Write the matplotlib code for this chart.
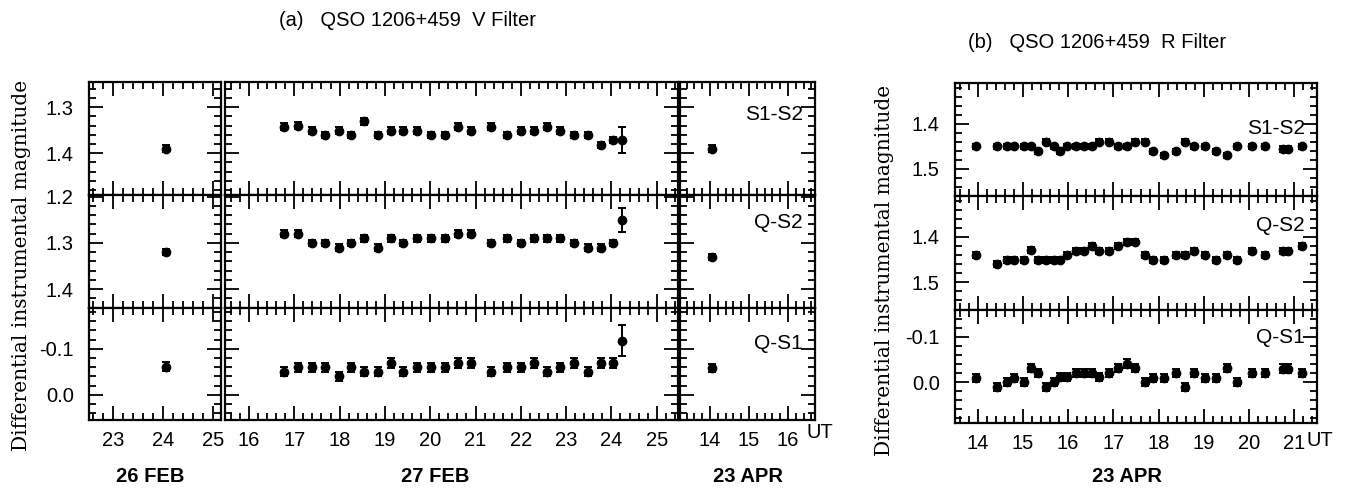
import numpy as np
import matplotlib
matplotlib.use("Agg")
import matplotlib.pyplot as plt
from matplotlib.ticker import MultipleLocator, FormatStrFormatter

plt.rcParams['font.family'] = ['Liberation Sans', 'DejaVu Sans']
plt.rcParams['axes.unicode_minus'] = False

# ---- data (UT hours, differential magnitudes) ----
# (a) V filter, 26 FEB
feb26_t = [24.05]
feb26_s1s2 = [1.390]
feb26_qs2 = [1.320]
feb26_qs1 = [-0.061]
feb26_err = [[0.008], [0.007], [0.010]]

# (a) V filter, 27 FEB
feb27_t = [16.78, 17.09, 17.40, 17.68, 17.99, 18.25, 18.53, 18.84, 19.13, 19.41,
           19.71, 20.01, 20.32, 20.62, 20.91, 21.34, 21.69, 22.00, 22.29, 22.57,
           22.87, 23.18, 23.49, 23.76, 24.04, 24.24]
feb27_s1s2 = [1.342, 1.340, 1.351, 1.361, 1.351, 1.361, 1.331, 1.361, 1.351, 1.351,
              1.351, 1.361, 1.361, 1.342, 1.351, 1.342, 1.361, 1.351, 1.351, 1.342,
              1.351, 1.361, 1.361, 1.382, 1.371, 1.371]
feb27_s1s2_err = [0.007] * 25 + [0.028]
feb27_qs2 = [1.280, 1.280, 1.300, 1.300, 1.310, 1.300, 1.290, 1.310, 1.290, 1.300,
             1.290, 1.290, 1.290, 1.280, 1.280, 1.300, 1.290, 1.300, 1.290, 1.290,
             1.290, 1.300, 1.310, 1.310, 1.300, 1.251]
feb27_qs2_err = [0.007] * 25 + [0.026]
feb27_qs1 = [-0.050, -0.060, -0.060, -0.060, -0.040, -0.060, -0.050, -0.050, -0.069, -0.050,
             -0.060, -0.060, -0.060, -0.069, -0.069, -0.050, -0.060, -0.060, -0.069, -0.050,
             -0.060, -0.069, -0.050, -0.069, -0.069, -0.118]
feb27_qs1_err = [0.010] * 25 + [0.034]

# (a) V filter, 23 APR
apr23v_t = [14.05]
apr23v_s1s2 = [1.390]
apr23v_qs2 = [1.331]
apr23v_qs1 = [-0.058]
apr23v_err = [[0.007], [0.006], [0.008]]

# (b) R filter, 23 APR
apr23r_t = [13.96, 14.42, 14.65, 14.81, 15.02, 15.17, 15.33, 15.51, 15.68, 15.81,
            15.98, 16.18, 16.34, 16.52, 16.69, 16.91, 17.11, 17.30, 17.47, 17.70,
            17.88, 18.12, 18.38, 18.58, 18.78, 19.02, 19.26, 19.50, 19.74, 20.07,
            20.34, 20.75, 20.86, 21.17]
apr23r_s1s2 = [1.450, 1.450, 1.450, 1.450, 1.450, 1.450, 1.461, 1.440, 1.450, 1.461,
               1.450, 1.450, 1.450, 1.450, 1.440, 1.440, 1.450, 1.450, 1.440, 1.440,
               1.461, 1.470, 1.461, 1.440, 1.450, 1.450, 1.461, 1.470, 1.450, 1.450,
               1.450, 1.456, 1.456, 1.450]
apr23r_qs2 = [1.440, 1.460, 1.451, 1.451, 1.451, 1.429, 1.451, 1.451, 1.451, 1.451,
              1.440, 1.431, 1.431, 1.420, 1.431, 1.431, 1.420, 1.411, 1.411, 1.440,
              1.451, 1.451, 1.440, 1.440, 1.431, 1.440, 1.451, 1.440, 1.451, 1.431,
              1.440, 1.431, 1.431, 1.420]
apr23r_qs1 = [-0.010, 0.011, 0.000, -0.010, 0.000, -0.031, -0.020, 0.011, 0.000, -0.011,
              -0.011, -0.020, -0.020, -0.020, -0.011, -0.020, -0.031, -0.041, -0.031, 0.000,
              -0.010, -0.010, -0.020, 0.011, -0.020, -0.010, -0.010, -0.031, 0.000, -0.020,
              -0.020, -0.030, -0.030, -0.020]
apr23r_err = [0.006, 0.006, 0.009]

pair_names = ['S1-S2', 'Q-S2', 'Q-S1']

# ---- layout (pixels of a 1346x495 canvas) ----
W, H = 1346, 495
fig = plt.figure(figsize=(W / 100, H / 100), dpi=100)
FS = 14.5


def box(x0, y0, x1, y1):
    return [x0 / W, 1 - y1 / H, (x1 - x0) / W, (y1 - y0) / H]


def style(ax, xlim, ylim, show_x, show_y):
    ax.set_xlim(*xlim)
    ax.set_ylim(*ylim)
    ax.xaxis.set_major_locator(MultipleLocator(1))
    ax.xaxis.set_minor_locator(MultipleLocator(0.2))
    ax.yaxis.set_major_locator(MultipleLocator(0.1))
    ax.yaxis.set_minor_locator(MultipleLocator(0.02))
    ax.yaxis.set_major_formatter(FormatStrFormatter('%.1f'))
    ax.tick_params(which='both', direction='in', top=True, right=True,
                   width=1.3, labelsize=FS)
    ax.tick_params(which='major', length=10)
    ax.tick_params(which='minor', length=5)
    ax.tick_params(axis='y', pad=11)
    ax.tick_params(axis='x', pad=8)
    for s in ax.spines.values():
        s.set_linewidth(1.6)
    if not show_x:
        ax.tick_params(axis='x', labelbottom=False)
    if not show_y:
        ax.tick_params(axis='y', labelleft=False)


def draw(ax, t, y, e):
    ax.errorbar(t, y, yerr=e, fmt='o', color='black', ms=6, capsize=3,
                elinewidth=1.4, capthick=1.4)


rows_a = [82, 194.5, 307.5, 420]
ylims_a = [(1.49, 1.245), (1.44, 1.195), (0.055, -0.19)]
cols_a = [(89, 221, (22.52, 25.16)), (225, 678, (15.47, 25.47)), (680, 815, (13.23, 16.69))]

data_a = [
    (feb26_t, [feb26_s1s2, feb26_qs2, feb26_qs1], feb26_err),
    (feb27_t, [feb27_s1s2, feb27_qs2, feb27_qs1], [feb27_s1s2_err, feb27_qs2_err, feb27_qs1_err]),
    (apr23v_t, [apr23v_s1s2, apr23v_qs2, apr23v_qs1], apr23v_err),
]
label_pos_a = [0.71, 0.75, 0.684]

for c, (x0, x1, xlim) in enumerate(cols_a):
    t, series, errs = data_a[c]
    for r in range(3):
        ax = fig.add_axes(box(x0, rows_a[r], x1, rows_a[r + 1]))
        draw(ax, t, series[r], errs[r])
        style(ax, xlim, ylims_a[r], show_x=(r == 2), show_y=(c == 0))
        if c == 2:
            ax.text(0.91, label_pos_a[r], pair_names[r], transform=ax.transAxes,
                    ha='right', va='center', fontsize=15)

rows_b = [83, 196, 309.5, 423]
ylims_b = [(1.56, 1.31), (1.56, 1.31), (0.09, -0.16)]
series_b = [apr23r_s1s2, apr23r_qs2, apr23r_qs1]
label_pos_b = [0.60, 0.74, 0.75]
for r in range(3):
    ax = fig.add_axes(box(955, rows_b[r], 1317, rows_b[r + 1]))
    draw(ax, apr23r_t, series_b[r], apr23r_err[r])
    style(ax, (13.5, 21.5), ylims_b[r], show_x=(r == 2), show_y=True)
    ax.text(0.967, label_pos_b[r], pair_names[r], transform=ax.transAxes,
            ha='right', va='center', fontsize=15)

# ---- text ----
fig.text(408 / W, 1 - 20 / H, '(a)   QSO 1206+459  V Filter', ha='center', va='center', fontsize=14.5)
fig.text(1097 / W, 1 - 43 / H, '(b)   QSO 1206+459  R Filter', ha='center', va='center', fontsize=14.5)

ylab = 'Differential instrumental magnitude'
fig.text(22 / W, 1 - 265 / H, ylab, rotation=90, ha='center', va='center',
         fontsize=14.5, family='DejaVu Serif')
fig.text(885 / W, 1 - 270 / H, ylab, rotation=90, ha='center', va='center',
         fontsize=14.5, family='DejaVu Serif')

for x, s in [(150, '26 FEB'), (435, '27 FEB'), (748, '23 APR'), (1127, '23 APR')]:
    fig.text(x / W, 1 - 476 / H, s, ha='center', va='center', fontsize=FS, weight='bold')
fig.text(806 / W, 1 - 432 / H, 'UT', ha='left', va='center', fontsize=FS)
fig.text(1307 / W, 1 - 440 / H, 'UT', ha='left', va='center', fontsize=FS)

fig.savefig('out.png', dpi=100, facecolor='white')
